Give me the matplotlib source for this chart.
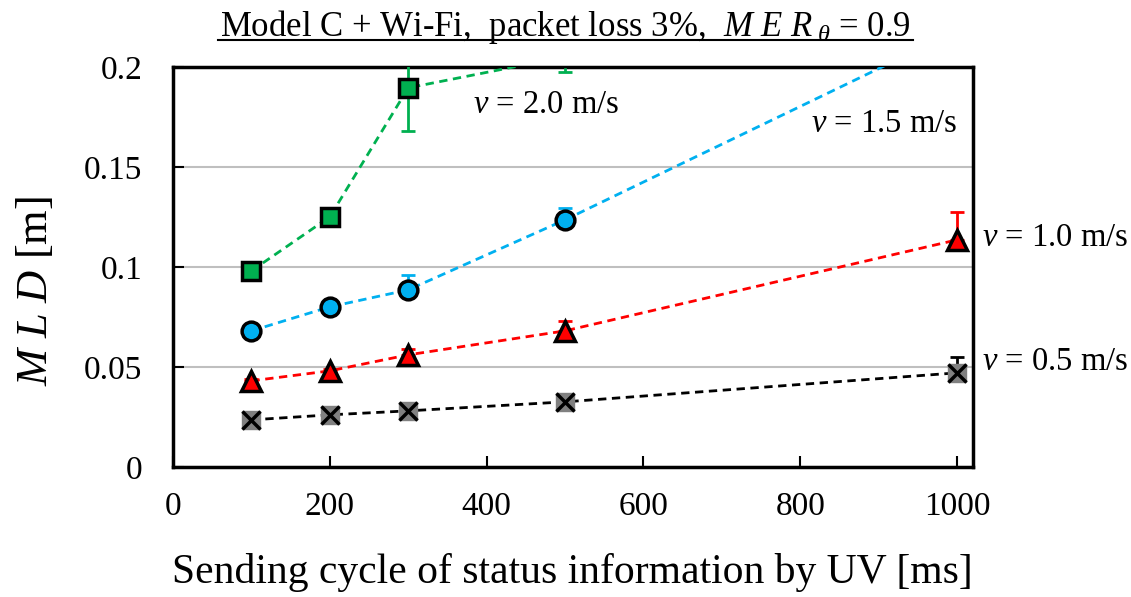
import matplotlib.pyplot as plt
from matplotlib.lines import Line2D

plt.rcParams['font.family'] = ['Liberation Serif', 'DejaVu Serif']
plt.rcParams['mathtext.fontset'] = 'custom'
plt.rcParams['mathtext.rm'] = 'Liberation Serif'
plt.rcParams['mathtext.it'] = 'Liberation Serif:italic'

# sending cycle [ms]
cycle = [100, 200, 300, 500, 1000]

# MLD [m] for each speed
mld_05 = [0.0235, 0.026, 0.028, 0.0325, 0.047]
mld_10 = [0.043, 0.048, 0.056, 0.068, 0.1135]
mld_15 = [0.068, 0.080, 0.0885, 0.1235, 0.218]
mld_20 = [0.098, 0.125, 0.1895, 0.205, 0.30]

# error bars (lower, upper)
err_05 = ([0, 0, 0, 0, 0], [0.001, 0.001, 0.001, 0.001, 0.008])
err_10 = ([0, 0, 0, 0, 0], [0.001, 0.001, 0.003, 0.005, 0.014])
err_15 = ([0, 0, 0, 0, 0], [0.001, 0.001, 0.0075, 0.006, 0.01])
err_20 = ([0.002, 0.002, 0.0215, 0.0075, 0.02], [0.002, 0.002, 0.0215, 0.0075, 0.02])

speed_labels = ["0.5", "1.0", "1.5", "2.0"]

fig = plt.figure(figsize=(11.31, 5.97), dpi=100)
ax = fig.add_axes([0.153, 0.218, 0.707, 0.670])

dash = (0, (3, 2))
ax.errorbar(cycle, mld_05, yerr=err_05, fmt='none', ecolor='black', elinewidth=2, capsize=5, capthick=2, zorder=3)
ax.plot(cycle, mld_05, color='black', ls=dash, lw=2, zorder=4)
ax.plot(cycle, mld_05, ls='none', marker='s', ms=13.5, mfc='#808080', mec='#808080', zorder=5)
ax.plot(cycle, mld_05, ls='none', marker='x', ms=13, mec='black', mew=2.5, zorder=6)

ax.errorbar(cycle, mld_10, yerr=err_10, fmt='none', ecolor='red', elinewidth=2, capsize=5, capthick=2, zorder=3)
ax.plot(cycle, mld_10, color='red', ls=dash, lw=2, zorder=4)
ax.plot(cycle, mld_10, ls='none', marker='^', ms=15, mfc='red', mec='black', mew=2.5, zorder=5)

ax.errorbar(cycle, mld_15, yerr=err_15, fmt='none', ecolor='#00B0F0', elinewidth=2, capsize=5, capthick=2, zorder=3)
ax.plot(cycle, mld_15, color='#00B0F0', ls=dash, lw=2, zorder=4)
ax.plot(cycle, mld_15, ls='none', marker='o', ms=13.5, mfc='#00B0F0', mec='black', mew=2.5, zorder=5)

ax.errorbar(cycle, mld_20, yerr=err_20, fmt='none', ecolor='#00B050', elinewidth=2, capsize=5, capthick=2, zorder=3)
ax.plot(cycle, mld_20, color='#00B050', ls=dash, lw=2, zorder=4)
ax.plot(cycle, mld_20, ls='none', marker='s', ms=12.5, mfc='#00B050', mec='black', mew=2.5, zorder=5)

ax.set_xlim(0, 1020)
ax.set_ylim(0, 0.2)
ax.set_xticks([0, 200, 400, 600, 800, 1000])
ax.set_yticks([0, 0.05, 0.1, 0.15, 0.2])
ax.set_yticklabels(["0", "0.05", "0.1", "0.15", "0.2"])
ax.yaxis.grid(True, color='#BFBFBF', lw=1.5)
ax.set_axisbelow(True)
ax.tick_params(direction='in', length=8, width=1.5, labelsize=24)
ax.tick_params(axis='x', pad=18)
ax.tick_params(axis='y', pad=22)
for s in ax.spines.values():
    s.set_linewidth(2.5)

ax.set_xlabel("Sending cycle of status information by UV [ms]", fontsize=30, va='center')
ax.xaxis.set_label_coords(0.5, -0.265)
ax.set_ylabel(r"$M\ L\ D$ [m]", fontsize=32, va='center')
ax.yaxis.set_label_coords(-0.1725, 0.44)

# speed labels
lab_pos = [(1032, 0.0525), (1032, 0.1145), (814, 0.1715), (382, 0.181)]
for (lx, ly), sp in zip(lab_pos, speed_labels):
    ax.text(lx, ly, r"$v$ = " + sp + " m/s", fontsize=23.5, va='center', ha='left', clip_on=False)

fig.text(0.5, 0.955, r"Model C + Wi-Fi,  packet loss 3%,  $M\ E\ R_{\ \theta}$ = 0.9",
         fontsize=25, ha='center', va='center')
fig.add_artist(Line2D([0.193, 0.807], [0.933, 0.933], color='black', lw=1.5))

fig.savefig("out.png", dpi=100)
